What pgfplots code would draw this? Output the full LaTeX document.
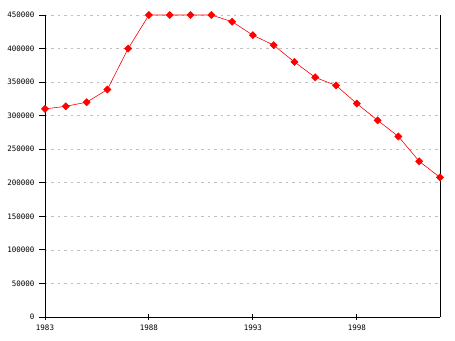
\documentclass[border=0pt]{standalone}
\usepackage{fontspec}
\setmainfont{DejaVu Sans Mono}
\usepackage{pgfplots}
\pgfplotsset{compat=1.18}
\begin{document}
\begin{tikzpicture}[x=1pt,y=1pt]
\path[use as bounding box] (-45,-23) rectangle (410,317);
\begin{axis}[
  at={(0,0)}, anchor=south west,
  scale only axis, width=395pt, height=302pt,
  xmin=1983, xmax=2002, ymin=0, ymax=450000,
  axis x line*=bottom, axis y line*=left,
  axis line style={black, line width=0.9pt, -},
  xtick={1983,1988,1993,1998},
  ytick={0,50000,...,450000},
  tick style={black, line width=0.9pt},
  xtick align=center, ytick align=outside,
  major tick length=6pt,
  ymajorgrids,
  grid style={black!25, dash pattern=on 2.5pt off 4pt, line width=0.7pt},
  font=\fontsize{7.5}{8}\selectfont,
  /pgf/number format/assume math mode=true,
  /pgf/number format/set thousands separator={},
  /pgf/number format/fixed,
  scaled y ticks=false,
  x tick label style={/pgf/number format/1000 sep={}},
  yticklabel style={xshift=-1pt},
  xticklabel style={yshift=-1pt},
  clip=false,
]
\addplot[red, line width=0.6pt, mark=square*, mark size=2.5pt, mark options={fill=red, draw=red, rotate=45}] coordinates {
(1983,310000) (1984,314000) (1985,320000) (1986,339000) (1987,400000)
(1988,450000) (1989,450000) (1990,450000) (1991,450000) (1992,440000)
(1993,420000) (1994,405000) (1995,380000) (1996,357000) (1997,345000)
(1998,318000) (1999,293000) (2000,269000) (2001,232000) (2002,208000)
};
\draw[black, line width=0.9pt] (rel axis cs:1,0) -- (rel axis cs:1,1);
\end{axis}
\end{tikzpicture}
\end{document}
